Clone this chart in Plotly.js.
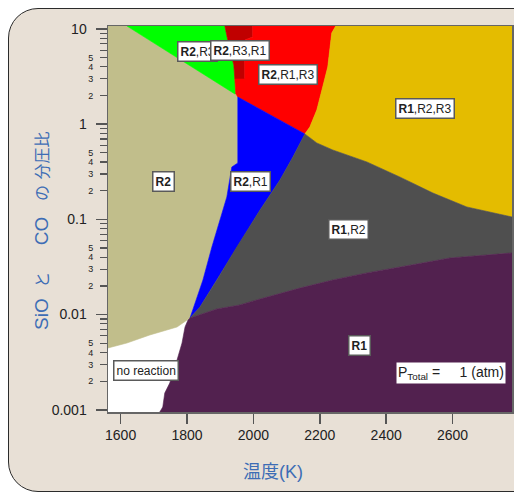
<!DOCTYPE html>
<html><head><meta charset="utf-8">
<script src="https://cdn.plot.ly/plotly-3.0.1.min.js"></script>
<style>
html,body{margin:0;padding:0;background:#fff;width:514px;height:493px;overflow:hidden;}
#frame{position:absolute;left:8px;top:8px;width:600px;height:484px;background:#e8e0d6;border:1.5px solid #2b2b2b;border-radius:30px;box-sizing:border-box;}
#chart{position:absolute;left:0;top:0;width:514px;height:493px;}
</style></head><body>
<div id="frame"></div><div id="chart"></div>
<script>
// ---- axis extents and ticks ----
const tLeft = 1562, tRight = 2779, pBottom = 0.000948, pTop = 10.75;
const xTickVals = [1600, 1800, 2000, 2200, 2400, 2600];
const yMajorVals = [0.001, 0.01, 0.1, 1, 10];
const yMajorText = ['0.001', '0.01', '0.1', '1', '10'];
const yMinorDecades = [0.001, 0.01, 0.1, 1];
const yMinorMult = [2, 3, 4, 5, 6, 7, 8, 9];
const yMinorText = ['2', '3', '4', '5', '', '', '', ''];

// ---- region boundaries (temperature K, partial-pressure ratio) ----
const greenKhakiT = [1619, 1944];
const greenKhakiP = [10.75, 2.08];
const greenRightT = [1914, 1929, 1941, 1944, 1947];
const greenRightP = [10.75, 6.02, 4.19, 2.98, 2.08];
const darkRedRightT = [1944, 1974, 1974, 1998, 1998];
const darkRedRightP = [2.98, 2.98, 7.66, 8.24, 10.75];
const redYellowT = [2248, 2236, 2224, 2209, 2191, 2170, 2155];
const redYellowP = [10.75, 9.08, 3.99, 2.46, 1.41, 0.935, 0.79];
const redBlueT = [1953, 2155];
const redBlueP = [1.93, 0.79];
const blueGrayT = [2155, 2119, 2080, 2020, 1950, 1890, 1875, 1839, 1809];
const blueGrayP = [0.79, 0.452, 0.259, 0.1255, 0.0513, 0.0231, 0.0195, 0.0120, 0.00921];
const khakiBlueT = [1953, 1953, 1935, 1920, 1899, 1875, 1848, 1830, 1809];
const khakiBlueP = [1.93, 0.391, 0.355, 0.172, 0.0986, 0.0513, 0.0231, 0.0153, 0.00921];
const grayYellowT = [2155, 2191, 2239, 2342, 2441, 2541, 2643, 2779];
const grayYellowP = [0.79, 0.635, 0.536, 0.401, 0.279, 0.189, 0.135, 0.106];
const grayPurpleT = [1809, 1890, 1959, 2020, 2140, 2239, 2342, 2441, 2592, 2779];
const grayPurpleP = [0.00921, 0.01146, 0.01262, 0.01459, 0.0190, 0.0231, 0.0274, 0.0316, 0.0393, 0.0444];
const whitePurpleT = [1809, 1803, 1794, 1785, 1770, 1748, 1733, 1727, 1718];
const whitePurpleP = [0.00921, 0.00878, 0.00741, 0.00503, 0.00334, 0.00191, 0.00150, 0.00107, 0.000948];
const khakiWhiteT = [1809, 1770, 1688, 1619, 1562];
const khakiWhiteP = [0.00921, 0.00741, 0.00611, 0.00503, 0.00446];

// ---- labels ----
const labelTexts = ['<b>R2</b>', '<b>R2</b>,R3', '<b>R2</b>,R3,R1', '<b>R2</b>,R1,R3', '<b>R1</b>,R2,R3',
                    '<b>R2</b>,R1', '<b>R1</b>,R2', '<b>R1</b>', 'no reaction'];
const pressureNote = 'P<sub>Total</sub> =\u00a0\u00a0\u00a0\u00a0 1 (atm)';
const LAT = '<span style="font-family:Liberation Sans;font-size:19px">';
const xTitle = '温度<span style="font-family:Liberation Sans">(K)</span>';
const yTitle = LAT + 'SiO\u00a0\u00a0</span>と' + LAT + '\u00a0\u00a0\u00a0\u00a0\u00a0CO\u00a0\u00a0\u00a0</span>の' + LAT + '\u00a0</span>分圧比';

// ---- helpers ----
const seg = (T, P) => T.map((t, i) => [t, P[i]]);
const rev = a => a.slice().reverse();
function poly(...parts) {
  const pts = [].concat(...parts);
  return {x: pts.map(p => p[0]), y: pts.map(p => p[1])};
}
const gK = seg(greenKhakiT, greenKhakiP), gR = seg(greenRightT, greenRightP);
const dR = seg(darkRedRightT, darkRedRightP), rY = seg(redYellowT, redYellowP);
const rB = seg(redBlueT, redBlueP), bG = seg(blueGrayT, blueGrayP);
const kB = seg(khakiBlueT, khakiBlueP), gY = seg(grayYellowT, grayYellowP);
const gP = seg(grayPurpleT, grayPurpleP), wP = seg(whitePurpleT, whitePurpleP);
const kW = seg(khakiWhiteT, khakiWhiteP);

const regions = [
  {c: '#c1be8b', p: poly([[tLeft, pTop]], gK, kB, kW)},
  {c: '#00ff00', p: poly(gR, rev(gK))},
  {c: '#c00000', p: poly(gR.slice(0, 4), dR)},
  {c: '#ff0000', p: poly(rev(dR), gR.slice(4), rB, rev(rY))},
  {c: '#e4bc00', p: poly(rY, gY, [[tRight, pTop]])},
  {c: '#0000ff', p: poly(rB, bG, rev(kB))},
  {c: '#4f4f4f', p: poly(gY, [[tRight, 0.0444]], rev(gP), rev(bG))},
  {c: '#52214f', p: poly(gP, [[tRight, pBottom]], rev(wP)), yaxis: 'y2'}
];

const traces = regions.map(r => ({
  type: 'scatter', mode: 'lines', x: r.p.x, y: r.p.y, fill: 'toself', yaxis: r.yaxis || 'y',
  fillcolor: r.c, line: {color: r.c, width: 0.6}, hoverinfo: 'skip', showlegend: false
}));

const minorVals = [], minorText = [];
yMinorDecades.forEach(d => yMinorMult.forEach((m, i) => { minorVals.push(d * m); minorText.push(yMinorText[i]); }));

const yRange = [Math.log10(pBottom), Math.log10(pTop)];
const tickFont = {family: 'Liberation Sans, Arial, sans-serif', size: 14, color: '#222'};
const boxFont = {family: 'Liberation Sans, Arial, sans-serif', size: 12, color: '#222'};
const titleFont = {family: 'Noto Sans CJK JP, sans-serif', size: 16, color: '#3d6db5'};

// label anchor positions (T, log10 P)
const labelPos = [[1730, -0.607, 'center'], [1770, 0.764, 'left'], [1961, 0.769, 'center'], [2104, 0.522, 'center'],
                  [2517, 0.165, 'center'], [1992, -0.602, 'center'], [2285, -1.111, 'center'],
                  [2319, -2.325, 'center'], [1675, -2.582, 'center']];
const annotations = labelTexts.map((t, i) => ({
  x: labelPos[i][0], y: labelPos[i][1], xref: 'x', yref: 'y', xanchor: labelPos[i][2], yanchor: 'middle',
  text: t, showarrow: false, font: boxFont, bgcolor: '#ffffff', bordercolor: '#5a5a5a', borderwidth: 1.5, borderpad: 2
}));
annotations.push({x: 2595, y: -2.613, xref: 'x', yref: 'y', xanchor: 'center', yanchor: 'middle', text: pressureNote, showarrow: false,
  font: {family: 'Liberation Sans, Arial, sans-serif', size: 14, color: '#222'}, bgcolor: '#ffffff', borderpad: 1});
annotations.push({x: 0.408, y: -0.150, xref: 'paper', yref: 'paper', xanchor: 'center', yanchor: 'middle',
  text: xTitle, showarrow: false, font: {family: 'Noto Sans CJK JP, sans-serif', size: 18, color: '#3d6db5'}});
annotations.push({x: -0.166, y: 0.469, xref: 'paper', yref: 'paper', xanchor: 'center', yanchor: 'middle',
  text: yTitle, textangle: -90, showarrow: false, font: titleFont});

const layout = {
  width: 514, height: 493,
  margin: {l: 108, r: 2, t: 26, b: 81, pad: 0},
  paper_bgcolor: 'rgba(0,0,0,0)', plot_bgcolor: '#ffffff', showlegend: false,
  xaxis: {range: [tLeft, tRight], tickvals: xTickVals, ticks: 'outside', ticklen: 10, tickwidth: 1.5, tickcolor: '#555',
          tickfont: tickFont, showgrid: false, zeroline: false, showline: true, linecolor: '#666', linewidth: 1.5, mirror: true},
  yaxis: {type: 'log', range: yRange, tickvals: yMajorVals, ticktext: yMajorText, ticks: 'outside', ticklen: 11,
          tickwidth: 1.5, tickcolor: '#555', tickfont: tickFont, showgrid: false, zeroline: false,
          showline: true, linecolor: '#666', linewidth: 1.5, mirror: true, ticklabelstandoff: 6},
  yaxis2: {type: 'log', range: yRange, overlaying: 'y', anchor: 'x', side: 'left', tickvals: minorVals, ticktext: minorText,
           ticks: 'outside', ticklen: 7, tickwidth: 1.2, tickcolor: '#555',
           tickfont: {family: 'Liberation Sans, Arial, sans-serif', size: 9, color: '#222'},
           showgrid: false, zeroline: false, showline: false, ticklabelstandoff: 5},
  annotations: annotations
};
Plotly.newPlot('chart', traces, layout, {staticPlot: true, displayModeBar: false});
</script></body></html>
